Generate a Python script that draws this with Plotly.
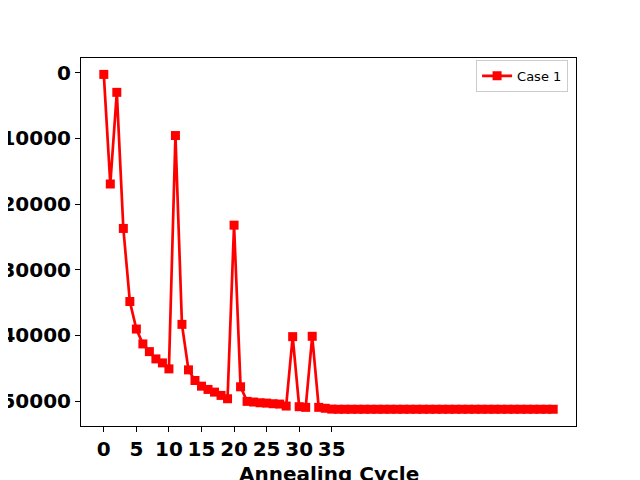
import plotly.graph_objects as go

# annealing cycle vs. energy (case 1)
cycles = list(range(70))
energy_case1 = [-250, -16940, -2980, -23710, -34840, -39030, -41300, -42470, -43580, -44190,
                -45100, -9560, -38320, -45250, -46870, -47730, -48230, -48640, -49140, -49650,
                -23210, -47830, -50050, -50150, -50260, -50310, -50410, -50460, -50760, -40190,
                -50860, -50960, -40140, -50960, -51100, -51230, -51250, -51250, -51250, -51250,
                -51250, -51250, -51250, -51250, -51250, -51250, -51250, -51250, -51250, -51250,
                -51250, -51250, -51250, -51250, -51250, -51250, -51250, -51250, -51250, -51250,
                -51250, -51250, -51250, -51250, -51250, -51250, -51250, -51250, -51250, -51250]

x_ticks = [0, 5, 10, 15, 20, 25, 30, 35]
y_ticks = [0, -10000, -20000, -30000, -40000, -50000]
y_tick_labels = ["0", "\u221210000", "\u221220000", "\u221230000", "\u221240000", "\u221250000"]
x_name = "Annealing Cycle"

tick_font = dict(family="DejaVu Sans", size=20, color="black", weight="bold")

fig = go.Figure()
fig.add_trace(go.Scatter(x=cycles, y=energy_case1,
                         mode='lines+markers',
                         line=dict(color='red', width=2.7),
                         marker=dict(symbol='square', size=9, color='red'),
                         name='Case 1'))

# page has an 8px body margin, so the figure is made 8px smaller and margins shifted
fig.update_layout(width=632, height=472,
                  margin=dict(l=73, r=64, t=50, b=54, autoexpand=False),
                  plot_bgcolor='white', paper_bgcolor='white',
                  showlegend=True,
                  legend=dict(x=0.984, xanchor='right', y=0.995, yanchor='top',
                              bordercolor='#cccccc', borderwidth=1,
                              font=dict(family="DejaVu Sans", size=13, color="black")))

# x label as annotation so it can sit partly below the page edge, like the original
fig.add_annotation(text=x_name, xref='paper', yref='paper', x=0.5, y=-0.092,
                   xanchor='center', yanchor='top', showarrow=False, font=tick_font)

fig.update_xaxes(range=[-3.5, 72.5], tickvals=x_ticks, tickfont=tick_font,
                 ticks='outside', ticklen=5, tickwidth=1, tickcolor='black',
                 showline=True, linecolor='black', linewidth=1, mirror=True,
                 showgrid=False, zeroline=False, automargin=False)
fig.update_yaxes(range=[-53800, 2250], tickvals=y_ticks, ticktext=y_tick_labels,
                 tickfont=tick_font,
                 ticks='outside', ticklen=5, tickwidth=1, tickcolor='black',
                 showline=True, linecolor='black', linewidth=1, mirror=True,
                 showgrid=False, zeroline=False, automargin=False)

fig.write_html("out.html")
